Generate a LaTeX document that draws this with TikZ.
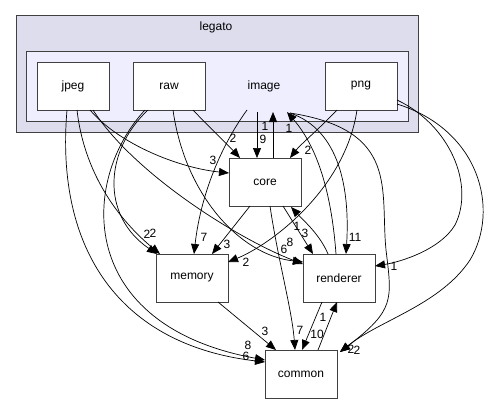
\documentclass[tikz,border=0pt]{standalone}
\usepackage{fontspec}
\setmainfont{Liberation Sans}
\usetikzlibrary{arrows.meta,calc}
\definecolor{outerfill}{HTML}{DDDDEE}
\definecolor{innerfill}{HTML}{EEEEFF}
\begin{document}
\begin{tikzpicture}[x=1pt,y=-1pt,
  font=\fontsize{12}{14}\selectfont,
  dirbox/.style={draw=black!75,line width=1pt,fill=white,rectangle,minimum width=72pt,minimum height=48pt,inner sep=0pt,outer sep=0pt},
  cluster/.style={draw=black!75,line width=1pt},
  dep/.style={draw=black,line width=0.7pt,-{Triangle[length=10pt,width=8pt]}},
  lbl/.style={inner sep=0pt,font=\fontsize{12}{14}\selectfont}]
\useasboundingbox (0,0) rectangle (492,404);
\fill[white] (0,0) rectangle (492,404);
% clusters
\draw[cluster,fill=outerfill] (16,16) rectangle (418,132);
\node[lbl] (legato) at (216,27) {legato};
\draw[cluster,fill=innerfill] (26,52) rectangle (408,121);
\node[lbl] (image) at (264,86) {image};
% nodes
\node[dirbox] (jpeg) at (73,86) {jpeg};
\node[dirbox] (raw) at (169,86) {raw};
\node[dirbox] (png) at (361,86) {png};
\node[dirbox] (core) at (265,182) {core};
\node[dirbox] (memory) at (192,278) {memory};
\node[dirbox] (renderer) at (339,278) {renderer};
\node[dirbox] (common) at (301,374) {common};
% image anchor points
\coordinate (imgA) at ($(image)+(-17,24)$);
\coordinate (imgB) at ($(image)+(-7,26)$);
\coordinate (imgC) at ($(image)+(9,26)$);
\coordinate (imgD) at ($(image)+(23,26)$);
\coordinate (imgE) at ($(image)+(26,27)$);
% edges
\draw[dep] (imgB) -- (imgB |- core.north);
\node[lbl] (l9) at (263,139) {9};
\draw[dep] (imgC |- core.north) -- (imgC);
\node[lbl] (l1a) at (265,126) {1};
\draw[dep] ($(raw.south)+(24,0)$) .. controls (210,128) and (228,145) .. ($(core.north)+(-25,0)$);
\node[lbl] (l2a) at (233,138) {2};
\draw[dep] ($(jpeg.south)+(17,0)$) .. controls (120,145) and (180,168) .. ($(core.west)+(0,-9)$);
\node[lbl] (l3a) at (213,160) {3};
\draw[dep] (imgA) .. controls (218,150) and (200,200) .. ($(memory.north)+(2,0)$);
\node[lbl] (l7a) at (204,237) {7};
\draw[dep] ($(core.south)+(-15,0)$) -- ($(memory.north)+(20,0)$);
\node[lbl] (l3b) at (227,244) {3};
\draw[dep] ($(jpeg.south)+(4,0)$) .. controls (85,180) and (125,225) .. ($(memory.north)+(-32,0)$);
\node[lbl] (l2b) at (147,234) {2};
\draw[dep] ($(raw.south)+(-21,0)$) .. controls (105,150) and (100,215) .. ($(memory.north)+(-35,0)$);
\node[lbl] (l2c) at (153,233) {2};
\draw[dep] ($(png.south)+(-4,0)$) .. controls (345,190) and (270,245) .. ($(memory.east)+(0,-16)$);
\node[lbl] (l2d) at (246,262) {2};
\draw[dep] ($(png.south)+(-24,0)$) .. controls (320,128) and (300,145) .. ($(core.north)+(25,0)$);
\node[lbl] (l2e) at (308,150) {2};
\draw[dep] ($(jpeg.south)+(20,0)$) .. controls (135,175) and (240,240) .. ($(renderer.west)+(0,-14)$);
\node[lbl] (l8a) at (290,242) {8};
\draw[dep] ($(raw.south)+(4,0)$) .. controls (185,195) and (240,255) .. ($(renderer.west)+(0,-16)$);
\node[lbl] (l6a) at (284,249) {6};
\draw[dep] ($(core.south)+(18,0)$) -- ($(renderer.north)+(-26,0)$);
\node[lbl] (l3c) at (305,233) {3};
\draw[dep] ($(renderer.north)+(-11,0)$) .. controls (320,235) and (305,222) .. ($(core.south)+(26,1)$);
\node[lbl] (l1b) at (297,226) {1};
\draw[dep] (imgE) .. controls (340,130) and (350,190) .. ($(renderer.north)+(7,0)$);
\node[lbl] (l11) at (355,237) {11};
\draw[dep] ($(renderer.north)+(-3,0)$) .. controls (332,200) and (320,150) .. (imgD);
\node[lbl] (l1c) at (289,128) {1};
\draw[dep] (imgE) .. controls (400,130) and (380,190) .. (386,250) .. controls (392,300) and (395,310) .. ($(common.east)+(3,-22)$);
\node[lbl] (l2f) at (351,349) {2};
\draw[dep] ($(png.east)+(0,18)$) .. controls (480,130) and (500,210) .. (470,260) .. controls (440,305) and (380,320) .. ($(common.east)+(3,-22)$);
\node[lbl] (l2g) at (357,350) {2};
\draw[dep] ($(png.east)+(0,14)$) .. controls (450,125) and (475,185) .. (455,225) .. controls (440,250) and (400,262) .. ($(renderer.east)+(0,-12)$);
\node[lbl] (l1d) at (394,266) {1};
\draw[dep] ($(core.south)+(5,0)$) .. controls (278,260) and (292,310) .. ($(common.north)+(-6,0)$);
\node[lbl] (l7b) at (300,330) {7};
\draw[dep] ($(renderer.south)+(-17,0)$) -- ($(common.north)+(1,0)$);
\node[lbl] (l10) at (317,334) {10};
\draw[dep] ($(common.north)+(17,0)$) -- ($(renderer.south)+(-2,0)$);
\node[lbl] (l1e) at (323,317) {1};
\draw[dep] ($(memory.south)+(26,0)$) -- ($(common.north)+(-25,0)$);
\node[lbl] (l3d) at (265,331) {3};
\draw[dep] ($(jpeg.south)+(-6,0)$) .. controls (55,250) and (120,345) .. ($(common.west)+(0,-12)$);
\node[lbl] (l8b) at (248,345) {8};
\draw[dep] ($(raw.south)+(-24,0)$) .. controls (80,180) and (75,325) .. ($(common.west)+(0,-14)$);
\node[lbl] (l6b) at (246,356) {6};
\end{tikzpicture}
\end{document}
